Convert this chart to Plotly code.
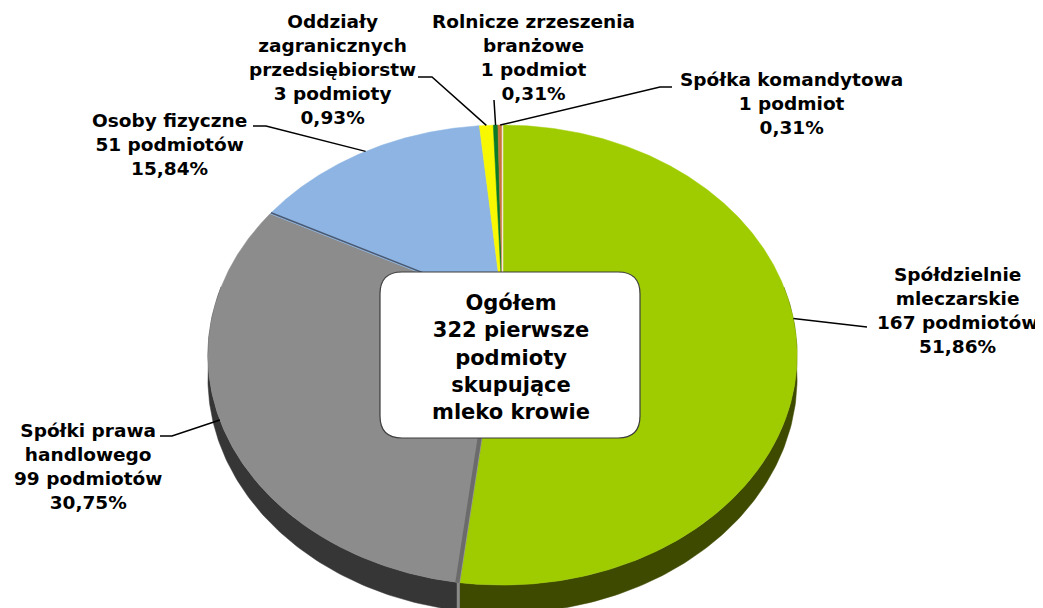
import numpy as np
import plotly.graph_objects as go

# ---------------- data ----------------
categories = ["Spółdzielnie<br>mleczarskie", "Spółki prawa<br>handlowego", "Osoby fizyczne",
              "Oddziały<br>zagranicznych<br>przedsiębiorstw", "Rolnicze zrzeszenia<br>branżowe",
              "Spółka komandytowa"]
counts = [167, 99, 51, 3, 1, 1]
count_labels = ["167 podmiotów", "99 podmiotów", "51 podmiotów", "3 podmioty", "1 podmiot", "1 podmiot"]
percent_labels = ["51,86%", "30,75%", "15,84%", "0,93%", "0,31%", "0,31%"]
center_text = "Ogółem<br>322 pierwsze<br>podmioty<br>skupujące<br>mleko krowie"

# ---------------- style ----------------
top_colors = ["#9ECC00", "#8C8C8C", "#8DB4E2", "#F8F800", "#0A7A28", "#C8763A"]
side_colors = ["#3E4A00", "#363636", "#5A7AA0", "#A0A000", "#054015", "#7A4520"]

W, H = 1043, 608
OFF = 8                    # page body margin in the browser
CX, CY = 502.5, 305.6      # projected pie centre
A, B, E = 287.7, 219.4, 0.215   # ellipse radii and perspective factor
DEPTH = 22

# label positions (centre of text block) and leader elbow points
label_pos = [(957, 310), (88, 466), (169, 144), (332, 69), (533, 57), (791, 103)]
leader_pts = [[(867, 327)], [(160, 436), (172, 436)], [(253, 126), (266, 126)],
              [(418, 77), (432, 77)], [(494, 100)], [(672, 87), (660, 87)]]

FONT = "DejaVu Sans"


def proj(phi_deg, r=1.0):
    p = np.radians(phi_deg)
    den = 1 + E * r * np.cos(p)
    return CX + A * r * np.sin(p) / den, CY - B * r * np.cos(p) / den


def depth(phi_deg):
    return DEPTH / (1 + E * np.cos(np.radians(phi_deg)))


total = sum(counts)
cum = np.concatenate([[0], np.cumsum(counts)]) / total * 360.0

fig = go.Figure()

# side walls
for i in range(len(counts)):
    a, b = max(cum[i], 85.0), min(cum[i + 1], 275.0)
    if a >= b:
        continue
    ph = np.linspace(a, b, 120)
    xt, yt = proj(ph)
    yb = yt + depth(ph)
    xs = np.concatenate([xt, xt[::-1]])
    ys = np.concatenate([yt, yb[::-1]])
    fig.add_trace(go.Scatter(x=xs, y=ys, fill="toself", fillcolor=side_colors[i],
                             line=dict(width=0.5, color=side_colors[i]), mode="lines",
                             hoverinfo="skip", showlegend=False))

# highlight strip on the wall at gray/green boundary
phb = cum[1]
xe, ye = proj(phb)
fig.add_trace(go.Scatter(x=[xe - 1.5, xe - 1.5], y=[ye, ye + depth(phb) + 5], mode="lines",
                         line=dict(color="#8A8A8A", width=3), hoverinfo="skip", showlegend=False))

# top surfaces
for i in range(len(counts)):
    ph = np.linspace(cum[i], cum[i + 1], max(int((cum[i + 1] - cum[i]) * 3), 6))
    xt, yt = proj(ph)
    xs = np.concatenate([[CX], xt, [CX]])
    ys = np.concatenate([[CY], yt, [CY]])
    fig.add_trace(go.Scatter(x=xs, y=ys, fill="toself", fillcolor=top_colors[i],
                             line=dict(width=0.5, color=top_colors[i]), mode="lines",
                             name=categories[i].replace("<br>", " "),
                             text=f"{categories[i].replace('<br>', ' ')}: {counts[i]}",
                             hoverinfo="text", showlegend=False))

# boundary accents
rr = np.array([0.0, 1.0])
xg, yg = proj(phb, rr)
fig.add_trace(go.Scatter(x=xg - 2.5, y=yg, mode="lines", line=dict(color="#6B6B6B", width=4),
                         hoverinfo="skip", showlegend=False))
xb, yb = proj(cum[2], rr)
fig.add_trace(go.Scatter(x=xb + 1, y=yb - 1, mode="lines", line=dict(color="#4A5A72", width=1.5),
                         hoverinfo="skip", showlegend=False))
xw, yw = proj(360.0, rr)
fig.add_trace(go.Scatter(x=xw, y=yw, mode="lines", line=dict(color="#F4E8DC", width=1.5),
                         hoverinfo="skip", showlegend=False))

# leader lines and labels
annotations = []
for i in range(len(counts)):
    mid = (cum[i] + cum[i + 1]) / 2
    ax_, ay_ = proj(mid)
    pts = leader_pts[i] + [(ax_, ay_)]
    fig.add_trace(go.Scatter(x=[p[0] for p in pts], y=[p[1] for p in pts], mode="lines",
                             line=dict(color="black", width=1.5), hoverinfo="skip", showlegend=False))
    annotations.append(dict(x=label_pos[i][0], y=label_pos[i][1], xref="x", yref="y",
                            text=f"{categories[i]}<br>{count_labels[i]}<br>{percent_labels[i]}",
                            showarrow=False, align="center", xanchor="center", yanchor="middle",
                            font=dict(family=FONT, size=18.5, color="black", weight="bold")))

# centre box
x0, x1, y0, y1, r = 380, 640, 272, 438, 22
path = (f"M {x0 + r} {y0} L {x1 - r} {y0} Q {x1} {y0} {x1} {y0 + r} L {x1} {y1 - r} "
        f"Q {x1} {y1} {x1 - r} {y1} L {x0 + r} {y1} Q {x0} {y1} {x0} {y1 - r} "
        f"L {x0} {y0 + r} Q {x0} {y0} {x0 + r} {y0} Z")
shapes = [dict(type="path", path=path, xref="x", yref="y", fillcolor="white",
               line=dict(color="#3C3C3C", width=1.2), layer="above")]
annotations.append(dict(x=511, y=357, xref="x", yref="y", text=center_text, showarrow=False,
                        align="center", xanchor="center", yanchor="middle",
                        font=dict(family=FONT, size=21, color="black", weight="bold")))

fig.update_layout(
    width=W, height=H, margin=dict(l=0, r=0, t=0, b=0),
    paper_bgcolor="white", plot_bgcolor="white",
    xaxis=dict(range=[OFF, W + OFF], visible=False, fixedrange=True),
    yaxis=dict(range=[H + OFF, OFF], visible=False, fixedrange=True),
    shapes=shapes, annotations=annotations, showlegend=False,
)

fig.write_html("out.html")
